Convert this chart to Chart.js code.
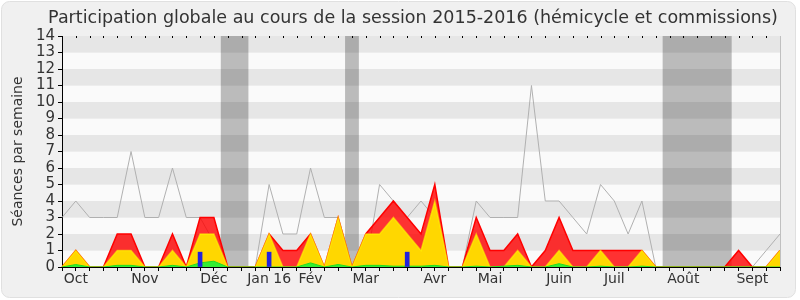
<!DOCTYPE html>
<html>
<head>
<meta charset="utf-8">
<script src="https://cdn.jsdelivr.net/npm/chart.js@4.4.0/dist/chart.umd.min.js"></script>
<style>
html, body { margin: 0; padding: 0; background: #ffffff; }
#wrap { width: 800px; height: 300px; }
</style>
</head>
<body>
<div id="wrap"><canvas id="chart" width="800" height="300"></canvas></div>
<script>
const TITRE = "Participation globale au cours de la session 2015-2016 (hémicycle et commissions)";

// semaines (53 points), mois affiches sous certaines semaines
const semaines = [
    "", "Oct", "", "", "", "", "Nov", "", "", "", "", "Déc", "", "", "", "Jan 16",
    "", "", "Fév", "", "", "", "Mar", "", "", "", "", "Avr", "", "", "", "Mai",
    "", "", "", "", "Juin", "", "", "", "Juil", "", "", "", "", "Août", "", "", "",
    "", "Sept", "", ""
];

// total hemicycle + commissions (rouge)
const presences = [
    0, 1, 0, 0, 2, 2, 0, 0, 2, 0, 3, 3, 0, 0, 0, 2, 1, 1, 2, 0, 3, 0, 2, 3, 4, 3,
    2, 5, 0, 0, 3, 1, 1, 2, 0, 1, 3, 1, 1, 1, 1, 1, 1, 0, 0, 0, 0, 0, 0, 1, 0, 0, 1
];

// commissions (jaune)
const commissions = [
    0, 1, 0, 0, 1, 1, 0, 0, 1, 0, 2, 2, 0, 0, 0, 2, 0, 0, 2, 0, 3, 0, 2, 2, 3, 2,
    1, 4, 0, 0, 2, 0, 0, 1, 0, 0, 1, 0, 0, 1, 0, 0, 1, 0, 0, 0, 0, 0, 0, 0, 0, 0, 1
];

// interventions (vert)
const interventions = [
    0, 0.15, 0, 0, 0.1, 0.1, 0, 0, 0.1, 0, 0.25, 0.35, 0, 0, 0, 0, 0, 0, 0.25, 0, 0.15, 0, 0.1, 0.1, 0.05, 0.05,
    0.05, 0.1, 0, 0, 0.05, 0, 0.05, 0.1, 0, 0, 0.2, 0, 0, 0.05, 0, 0, 0.05, 0, 0, 0, 0, 0, 0, 0, 0, 0, 0
];

// questions orales (bleu)
const questions = [
    null, null, null, null, null, null, null, null, null, null, 0.9, null, null, null, null, 0.9,
    null, null, null, null, null, null, null, null, null, 0.9, null, null, null, null, null, null,
    null, null, null, null, null, null, null, null, null, null, null, null, null, null, null, null,
    null, null, null, null, null
];

// mediane des deputes (gris)
const mediane = [
    3, 4, 3, 3, 3, 7, 3, 3, 6, 3, 3, 1.5, 0, 0, 0, 5, 2, 2, 6, 3, 3, 0, 0, 5, 4, 3,
    4, 3, 0, 0, 4, 3, 3, 3, 11, 4, 4, 3, 2, 5, 4, 2, 4, 0, 0, 0, 0, 0, 0, 0, 0, 1, 2
];

// vacances parlementaires (en semaines)
const vacances = [[11.5, 13.5], [20.5, 21.5], [43.5, 48.5]];

const yTicks = [0, 1, 2, 3, 4, 5, 6, 7, 8, 9, 10, 11, 12, 13, 14];

const fond = {
    id: "fond",
    beforeDraw(chart) {
        const ctx = chart.ctx;
        const a = chart.chartArea;
        ctx.save();
        ctx.fillStyle = "#f0f0f0";
        ctx.strokeStyle = "#e0e0e0";
        ctx.beginPath();
        ctx.roundRect(1.5, 1.5, 794, 296, 8);
        ctx.fill();
        ctx.stroke();
        const y = chart.scales.y;
        for (let k = 0; k < 14; k++) {
            ctx.fillStyle = k % 2 ? "#e6e6e6" : "#fafafa";
            const y1 = y.getPixelForValue(k + 1);
            const y0 = y.getPixelForValue(k);
            ctx.fillRect(a.left, y1, a.right - a.left, y0 - y1);
        }
        ctx.restore();
    },
    beforeDatasetsDraw(chart) {
        const ctx = chart.ctx;
        const a = chart.chartArea;
        const x = chart.scales.x;
        ctx.save();
        ctx.fillStyle = "rgba(0,0,0,0.25)";
        vacances.forEach(v => {
            const x0 = x.getPixelForValue(v[0]);
            const x1 = x.getPixelForValue(v[1]);
            ctx.fillRect(x0, a.top, x1 - x0, a.bottom - a.top);
        });
        ctx.restore();
    },
    afterDraw(chart) {
        const ctx = chart.ctx;
        const a = chart.chartArea;
        const x = chart.scales.x;
        ctx.save();
        ctx.strokeStyle = "#000";
        ctx.lineWidth = 1;
        for (let i = 0; i < semaines.length; i++) {
            const px = Math.round(x.getPixelForValue(i)) + 0.5;
            ctx.beginPath();
            ctx.moveTo(px, a.top);
            ctx.lineTo(px, a.top + 2);
            ctx.stroke();
        }
        ctx.strokeStyle = "#c0c0c0";
        ctx.beginPath();
        ctx.moveTo(Math.round(a.right) + 0.5, a.top);
        ctx.lineTo(Math.round(a.right) + 0.5, a.bottom);
        ctx.stroke();
        ctx.fillStyle = "#333";
        ctx.font = "17.5px 'DejaVu Sans'";
        ctx.textAlign = "center";
        ctx.textBaseline = "middle";
        ctx.fillText(TITRE, 413, 18);
        ctx.restore();
    }
};

new Chart(document.getElementById("chart"), {
    type: "line",
    data: {
        labels: semaines,
        datasets: [
            {
                type: "bar",
                label: "Questions orales",
                data: questions,
                backgroundColor: "#2222dd",
                barThickness: 4,
                order: 0
            },
            {
                label: "Interventions",
                data: interventions,
                borderColor: "#22dd22",
                backgroundColor: "#33ee33",
                borderWidth: 1,
                fill: "origin",
                pointRadius: 0,
                tension: 0,
                order: 1
            },
            {
                label: "Commissions",
                data: commissions,
                borderColor: "rgba(255,255,0,0.55)",
                backgroundColor: "#ffd700",
                borderWidth: 1.5,
                fill: "origin",
                pointRadius: 0,
                tension: 0,
                order: 2
            },
            {
                label: "Présences",
                data: presences,
                borderColor: "#ff0000",
                backgroundColor: "rgba(255,0,0,0.8)",
                borderWidth: 1.5,
                fill: "origin",
                pointRadius: 0,
                tension: 0,
                order: 3
            },
            {
                label: "Médiane",
                data: mediane,
                borderColor: "#b0b0b0",
                borderWidth: 1,
                fill: false,
                pointRadius: 0,
                tension: 0,
                order: 4
            }
        ]
    },
    options: {
        responsive: false,
        animation: false,
        layout: {
            padding: { top: 36, right: 20, left: 0, bottom: 0 }
        },
        plugins: {
            legend: { display: false },
            tooltip: { enabled: false },
            title: { display: false }
        },
        scales: {
            x: {
                type: "category",
                offset: false,
                z: 1,
                grid: {
                    offset: false,
                    drawOnChartArea: false,
                    drawTicks: true,
                    tickLength: 4,
                    color: "#000"
                },
                border: { color: "#000", width: 1 },
                ticks: {
                    autoSkip: false,
                    maxRotation: 0,
                    padding: 0,
                    color: "#333",
                    font: { family: "DejaVu Sans", size: 14 }
                },
                afterFit(scale) { scale.height = 33; }
            },
            y: {
                min: 0,
                max: 14,
                afterBuildTicks(scale) {
                    scale.ticks = yTicks.map(v => ({ value: v }));
                },
                grid: {
                    drawOnChartArea: false,
                    drawTicks: true,
                    tickLength: 4,
                    color: "#000"
                },
                border: { color: "#000", width: 1 },
                ticks: {
                    autoSkip: false,
                    padding: 3,
                    color: "#333",
                    font: { family: "DejaVu Sans", size: 15 }
                },
                title: {
                    display: true,
                    text: "Séances par semaine",
                    color: "#333",
                    padding: { top: 10, bottom: 0 },
                    font: { family: "DejaVu Sans", size: 14 }
                },
                afterFit(scale) { scale.width = 62; }
            }
        }
    },
    plugins: [fond]
});
</script>
</body>
</html>
